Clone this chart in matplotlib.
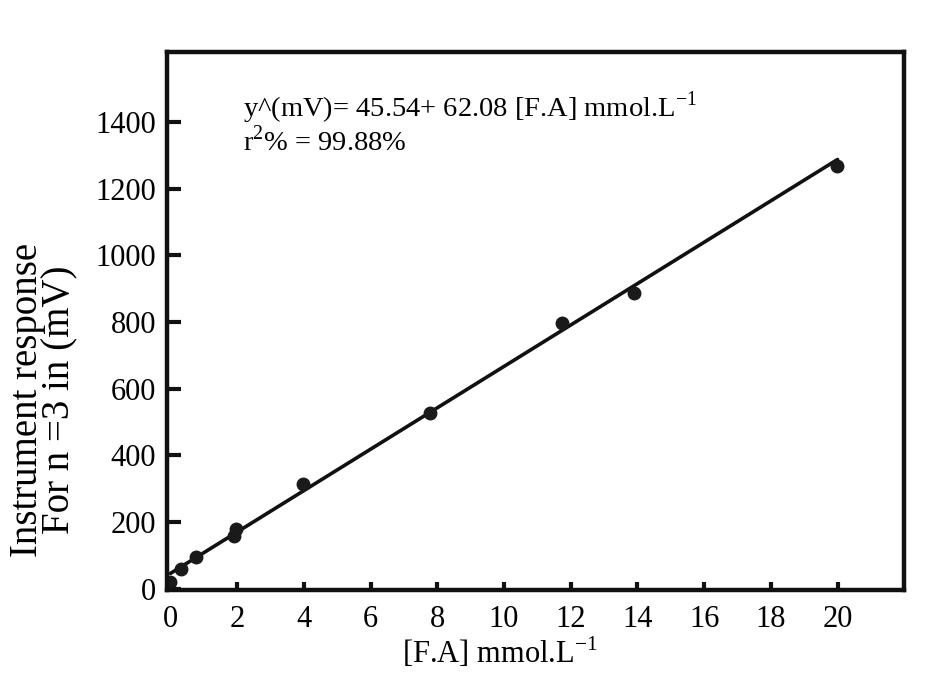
import numpy as np
import matplotlib
matplotlib.use("Agg")
import matplotlib.pyplot as plt

plt.rcParams['font.family'] = ['Liberation Serif', 'DejaVu Serif']
plt.rcParams['mathtext.fontset'] = 'custom'
plt.rcParams['mathtext.rm'] = 'Liberation Serif'
plt.rcParams['axes.unicode_minus'] = False

# Calibration data: formic acid concentration vs. instrument response
conc = [0.0, 0.33, 0.78, 1.9, 1.95, 3.96, 7.77, 11.75, 13.9, 19.97]
response = [21, 60, 96, 157, 180, 313, 526, 797, 887, 1269]

intercept = 45.54
slope = 62.08
r2_pct = 99.88

x_ticks = list(range(0, 21, 2))
y_ticks = list(range(0, 1401, 200))

fig = plt.figure(figsize=(9.39, 6.73), dpi=100)
ax = fig.add_axes([0.178, 0.123, 0.785, 0.800])

xfit = np.array([0.0, 20.0])
ax.plot(xfit, intercept + slope * xfit, color='#111111', lw=2.6, solid_capstyle='round')
ax.plot(conc, response, 'o', color='#1a1a1a', markersize=9)

ax.set_xlim(-0.1, 22)
ax.set_ylim(-5, 1610)
ax.set_xticks(x_ticks)
ax.set_yticks(y_ticks)

for s in ax.spines.values():
    s.set_linewidth(3.2)
    s.set_color('#111111')

ax.tick_params(axis='y', direction='in', length=10, width=3, pad=8,
               labelsize=22, color='#111111')
ax.tick_params(axis='x', direction='in', length=6, width=3, pad=11,
               labelsize=22, color='#111111')

ax.set_xlabel(r'[F.A] mmol.L$^{\mathregular{-1}}$', fontsize=22)
ax.xaxis.set_label_coords(0.452, -0.083)
ax.set_ylabel('Instrument response\nFor n =3 in (mV)', fontsize=28,
              linespacing=0.85)
ax.yaxis.set_label_coords(-0.120, 0.353)

ax.text(0.103, 0.93,
        'y^(mV)= %.2f+ %.2f [F.A] mmol.L$^{\\mathregular{-1}}$' % (intercept, slope),
        transform=ax.transAxes, fontsize=20.5, va='top', ha='left')
ax.text(0.103, 0.862, 'r$^{\\mathregular{2}}$%% = %.2f%%' % r2_pct,
        transform=ax.transAxes, fontsize=20.5, va='top', ha='left')

fig.savefig('out.png', dpi=100, facecolor='white')
